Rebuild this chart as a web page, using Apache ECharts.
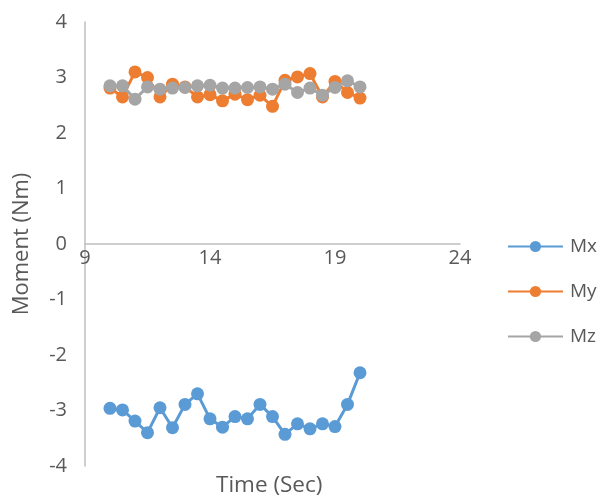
<!DOCTYPE html>
<html>
<head>
<meta charset="utf-8">
<script src="https://cdn.jsdelivr.net/npm/echarts@6/dist/echarts.min.js"></script>
<style>
  html, body { margin: 0; padding: 0; background: #fff; }
  #chart { width: 604px; height: 501px; }
</style>
</head>
<body>
<div id="chart"></div>
<script>
// Sample times (s) and moment components (Nm)
const timeSec = [10, 10.5, 11, 11.5, 12, 12.5, 13, 13.5, 14, 14.5, 15, 15.5, 16, 16.5, 17, 17.5, 18, 18.5, 19, 19.5, 20];
const mx = [-2.96, -2.99, -3.19, -3.40, -2.95, -3.31, -2.89, -2.70, -3.15, -3.30, -3.11, -3.15, -2.89, -3.11, -3.43, -3.24, -3.33, -3.24, -3.29, -2.89, -2.32];
const my = [2.81, 2.65, 3.10, 3.00, 2.65, 2.88, 2.83, 2.65, 2.69, 2.58, 2.70, 2.60, 2.68, 2.48, 2.95, 3.01, 3.07, 2.65, 2.93, 2.73, 2.63];
const mz = [2.85, 2.85, 2.61, 2.83, 2.79, 2.81, 2.82, 2.85, 2.86, 2.81, 2.81, 2.82, 2.83, 2.79, 2.88, 2.73, 2.81, 2.68, 2.82, 2.94, 2.83];

const seriesNames = ['Mx', 'My', 'Mz'];
const seriesValues = [mx, my, mz];
const seriesColors = ['#5B9BD5', '#ED7D31', '#A5A5A5'];

const font = '"Open Sans", "Liberation Sans", sans-serif';
const textColor = '#595959';
const axisColor = '#BFBFBF';

const gridTop = 22;
const gridBottom = 35;
const chartHeight = 501;
const plotHeight = chartHeight - gridTop - gridBottom;

const chart = echarts.init(document.getElementById('chart'), null, { renderer: 'canvas' });

chart.setOption({
  animation: false,
  backgroundColor: '#ffffff',
  textStyle: { fontFamily: font },
  grid: { left: 85, right: 144, top: gridTop, bottom: gridBottom, containLabel: false },
  legend: {
    orient: 'vertical',
    right: 2,
    top: 232,
    itemGap: 26,
    itemWidth: 55,
    itemHeight: 14,
    textStyle: { color: textColor, fontSize: 19, fontFamily: font, padding: [0, 0, 0, 2] },
    data: seriesNames
  },
  xAxis: {
    type: 'value',
    min: 9,
    max: 24,
    interval: 5,
    position: 'bottom',
    // the horizontal axis sits on y = 0, in the middle of the plot
    offset: -plotHeight / 2,
    axisLine: { onZero: false, lineStyle: { color: axisColor, width: 1.5 } },
    axisTick: { show: false },
    splitLine: { show: false },
    axisLabel: { color: textColor, fontSize: 20, margin: 4, fontFamily: font }
  },
  yAxis: {
    type: 'value',
    min: -4,
    max: 4,
    interval: 1,
    name: 'Moment (Nm)',
    nameLocation: 'middle',
    nameGap: 52,
    nameTextStyle: { color: textColor, fontSize: 22, fontFamily: font },
    axisLine: { show: true, onZero: false, lineStyle: { color: axisColor, width: 1.5 } },
    axisTick: { show: false },
    splitLine: { show: false },
    axisLabel: { color: textColor, fontSize: 20, margin: 18, fontFamily: font }
  },
  graphic: [{
    type: 'text',
    left: 216,
    top: 474,
    style: { text: 'Time (Sec)', fill: textColor, font: '22.5px ' + font }
  }],
  series: seriesNames.map((name, i) => ({
    name: name,
    type: 'line',
    data: timeSec.map((t, j) => [t, seriesValues[i][j]]),
    symbol: 'circle',
    symbolSize: 13,
    showSymbol: true,
    lineStyle: { color: seriesColors[i], width: 3 },
    itemStyle: { color: seriesColors[i] },
    z: 2 + i
  }))
});
</script>
</body>
</html>
